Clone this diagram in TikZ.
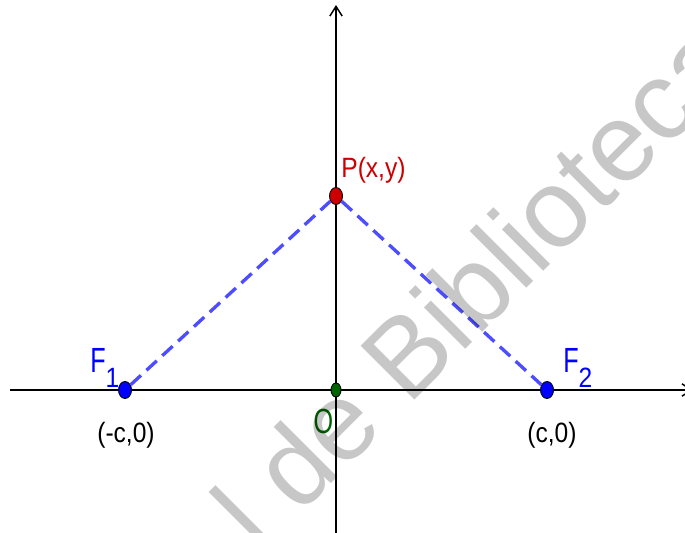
\documentclass[tikz,border=0pt]{standalone}
\usepackage{fontspec}
\setmainfont{Liberation Sans}
\newfontfamily\lblfont{Liberation Sans}[FakeStretch=0.88]
\newfontfamily\bigfont{Liberation Sans}[FakeStretch=0.72]
\usetikzlibrary{arrows.meta,shapes.geometric}
\definecolor{focusblue}{RGB}{0,0,255}
\definecolor{dashblue}{RGB}{77,77,255}
\definecolor{pointred}{RGB}{204,0,0}
\definecolor{origgreen}{RGB}{0,100,0}

\begin{document}
\begin{tikzpicture}[x=0.02cm, y=-0.02cm,
  axis/.style={line width=0.85pt, -{Straight Barb[length=5.5pt,width=7pt]}},
  dot/.style={ellipse, draw=black, line width=0.5pt, inner sep=0pt, minimum width=0.26cm, minimum height=0.34cm},
  seg/.style={dashblue, line width=1.9pt, dash pattern=on 0.28cm off 0.15cm},
  small/.style={inner sep=0pt, font=\lblfont\fontsize{15.9}{18}\selectfont},
  big/.style={inner sep=0pt, font=\bigfont\fontsize{19.9}{23}\selectfont}
]
\useasboundingbox (0,0) rectangle (685,533);

% axes
\coordinate (xl) at (10,390);
\coordinate (xr) at (693,390);
\coordinate (yb) at (336,533);
\coordinate (yt) at (336,5);
\draw[axis] (xl) -- (xr);
\draw[axis] (yb) -- (yt);

% points
\node[dot, fill=focusblue] (f1) at (125,390) {};
\node[dot, fill=focusblue] (f2) at (547,390) {};
\node[dot, fill=pointred] (p) at (336,196) {};
\node[dot, fill=origgreen, minimum width=0.2cm, minimum height=0.28cm] (o) at (336,390) {};

\draw[seg] (f1) -- (p);
\draw[seg] (p) -- (f2);

% labels
\node[big, text=focusblue, anchor=base west] (f1lbl) at (90,372) {F\raisebox{-0.32cm}{\lblfont\fontsize{15.9}{18}\selectfont 1}};
\node[big, text=focusblue, anchor=base west] (f2lbl) at (563,372) {F\raisebox{-0.32cm}{\lblfont\fontsize{15.9}{18}\selectfont 2}};
\node[big, text=origgreen, anchor=base] (olbl) at (323.5,433) {O};
\node[small, text=pointred, anchor=base west] (plbl) at (341,178) {P(x,y)};
\node[small, anchor=base] (f1xy) at (126,442) {(-c,0)};
\node[small, anchor=base] (f2xy) at (552,442) {(c,0)};

% watermark
\node[rotate=45, anchor=base west, inner sep=0pt, text=black, text opacity=0.22,
  font=\fontsize{63}{70}\selectfont] (mark) at (260,555) {l de Biblioteca};
\end{tikzpicture}
\end{document}
